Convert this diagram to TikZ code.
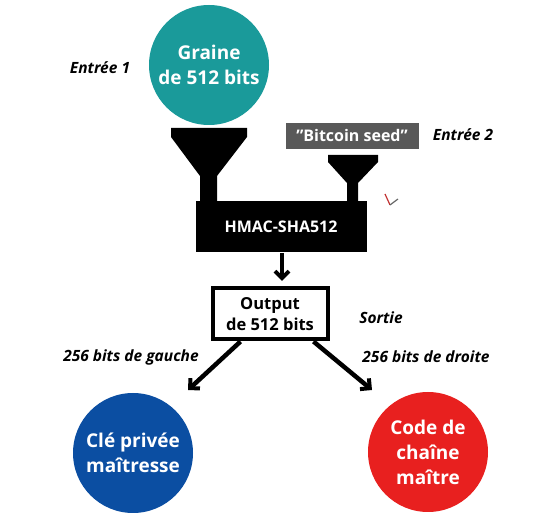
\documentclass[tikz,border=0pt]{standalone}
\usepackage{fontspec}
\setmainfont{Open Sans}
\usetikzlibrary{arrows.meta}
\definecolor{teal1}{HTML}{1A9A9A}
\definecolor{blue1}{HTML}{0B4EA2}
\definecolor{red1}{HTML}{E8201F}
\definecolor{gray1}{HTML}{595959}
\tikzset{
  x=1pt, y=-1pt,
  circ/.style={circle, minimum size=120pt, inner sep=0pt, text=white, font=\fontsize{19}{25}\selectfont\bfseries, align=center},
  lab/.style={font=\fontsize{15.5}{18}\selectfont\bfseries\itshape, text=black},
  fun/.style={fill=black, draw=none},
  arr/.style={line width=4.5pt, -{Straight Barb[length=7pt, width=14pt, line width=4pt]}}
}
\begin{document}
\begin{tikzpicture}
\useasboundingbox (0,0) rectangle (555,526);
% circles
\node[circ, fill=teal1] (seed) at (209,65) {Graine\\de 512 bits};
\node[circ, fill=blue1] (priv) at (133,453) {Clé privée\\maîtresse};
\node[circ, fill=red1] (chain) at (428,452) {Code de\\chaîne\\maître};
% funnels
\fill[fun] (171,128) -- (247,128) -- (247,137) -- (217,176) -- (217,204) -- (200,204) -- (200,176) -- (171,137) -- cycle;
\fill[fun] (328,155) -- (378,155) -- (378,162) -- (358,183) -- (358,204) -- (347,204) -- (347,183) -- (328,162) -- cycle;
% bitcoin seed
\node[fill=gray1, text=white, font=\fontsize{16}{18}\selectfont\bfseries, minimum width=133pt, minimum height=26pt, inner sep=0pt] (bs) at (352,136) {\symbol{34}Bitcoin seed\symbol{34}};
% HMAC
\node[fill=black, text=white, font=\fontsize{16}{18}\selectfont\bfseries, minimum width=171pt, minimum height=51pt, inner sep=0pt] (hmac) at (281,227) {HMAC-SHA512};
% output
\node[draw=black, line width=4pt, fill=white, font=\fontsize{16.5}{21}\selectfont\bfseries, align=center, minimum width=115pt, minimum height=51pt, inner sep=0pt] (out) at (270,314) {Output\\de 512 bits};
% arrows
\coordinate (hb) at (282,253);
\draw[arr] (hb) -- (282,281);
\draw[arr] (out.south west) ++(30,0) coordinate (o1) -- (188,390);
\draw[arr] (out.south east) ++(-16,0) coordinate (o2) -- (372,390);
% labels
\node[lab] (e1) at (100,68) {Entrée 1};
\node[lab] (e2) at (463,135) {Entrée 2};
\node[lab] (so) at (381,318) {Sortie};
\node[lab] (g) at (131,357) {256 bits de gauche};
\node[lab] (d) at (426,357) {256 bits de droite};
% small check mark
\draw[red!70!black!80, line width=1.2pt] (385,194) -- (390,205);
\draw[gray!80!black, line width=1.2pt] (390,205) -- (398,199);
\end{tikzpicture}
\end{document}
